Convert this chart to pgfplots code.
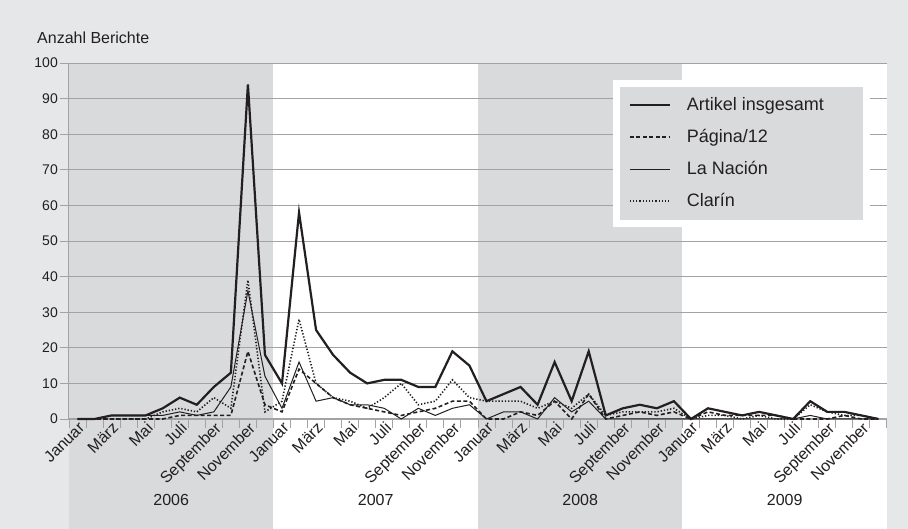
\documentclass[border=0pt]{standalone}
\usepackage{fontspec}
\setmainfont{Liberation Sans}
\usepackage{pgfplots}
\usepackage{pgfplotstable}
\pgfplotsset{compat=1.18}
\definecolor{bgout}{HTML}{E6E7E8}
\definecolor{bgband}{HTML}{D9DADB}
\definecolor{gridc}{HTML}{A3A3A3}
\definecolor{ink}{HTML}{231F20}

\pgfplotstableread{
i art pag nac cla
0 0 0 0 0
1 0 0 0 0
2 1 0 1 0
3 1 0 1 0
4 1 0 1 0
5 3 0 1 2
6 6 1 2 3
7 4 1 1 2
8 9 1 2 6
9 13 1 9 3
10 94 19 36 39
11 18 4 12 2
12 10 2 3 5
13 58 14 16 28
14 25 10 5 10
15 18 6 6 6
16 13 4 4 5
17 10 3 4 3
18 11 2 3 6
19 11 1 0 10
20 9 2 3 4
21 9 3 1 5
22 19 5 3 11
23 15 5 4 6
24 5 0 0 5
25 7 0 2 5
26 9 2 2 5
27 4 1 0 3
28 16 5 6 5
29 5 0 2 3
30 19 7 5 7
31 1 0 0 1
32 3 1 0 2
33 4 2 0 2
34 3 1 0 2
35 5 2 0 3
36 0 0 0 0
37 3 2 0 1
38 2 1 0 1
39 1 1 0 0
40 2 1 0 1
41 1 1 0 0
42 0 0 0 0
43 5 0 1 4
44 2 0 0 2
45 2 1 0 1
46 1 0 0 1
47 0 0 0 0
}\datatable

\begin{document}
\begin{tikzpicture}
\begin{axis}[
  set layers,
  at={(0pt,0pt)}, anchor=south west,
  scale only axis,
  width=817.9pt, height=356pt,
  xmin=-0.5, xmax=47.5, ymin=0, ymax=100,
  enlargelimits=false,
  clip=false,
  /pgf/number format/assume math mode=true,
  axis x line*=bottom, axis y line*=left,
  axis line style={draw=gridc, line width=1pt, -},
  ymajorgrids,
  grid style={draw=gridc, line width=0.9pt},
  ytick={0,10,...,100},
  tick align=outside,
  major tick length=9pt,
  minor tick length=9pt,
  tick style={draw=gridc, line width=0.9pt},
  xtick={0,2,...,46},
  xticklabels={Januar,März,Mai,Juli,September,November,Januar,März,Mai,Juli,September,November,Januar,März,Mai,Juli,September,November,Januar,März,Mai,Juli,September,November},
  major x tick style={draw=none},
  minor xtick={-0.5,0.5,...,47.5},
  minor x tick style={draw=gridc, line width=0.9pt},
  xticklabel style={rotate=45, anchor=north east, inner sep=1pt, yshift=6pt, xshift=6pt,
       font=\fontsize{16}{18}\selectfont, text=ink},
  yticklabel style={font=\fontsize{14}{16}\selectfont, text=ink, inner sep=2pt},
  legend cell align=left,
  legend image code/.code={\draw[#1] (0pt,0pt) -- (40pt,0pt);},
  legend style={at={(axis cs:46.5,95.3)}, anchor=north east,
     fill=bgband, draw=white, line width=7pt,
     font=\fontsize{18}{21}\selectfont, text=ink,
     inner xsep=12.5pt, inner ysep=11pt, row sep=10pt, column sep=14pt,
     nodes={inner sep=2pt, text height=14pt, text depth=4pt}},
]
\begin{pgfonlayer}{axis background}
\fill[bgout] ([xshift=-69pt,yshift=-110pt]axis cs:-0.5,0) rectangle ([xshift=21pt,yshift=63pt]axis cs:47.5,100);
\fill[bgband] (axis cs:-0.5,-31) rectangle (axis cs:11.5,100);
\fill[white] (axis cs:11.5,-31) rectangle (axis cs:23.5,100);
\fill[bgband] (axis cs:23.5,-31) rectangle (axis cs:35.5,100);
\fill[white] (axis cs:35.5,-31) rectangle (axis cs:47.5,100);
\end{pgfonlayer}

\addplot[ink, line width=2.2pt] table[x=i, y=art] {\datatable};
\addlegendentry{\makebox[165pt][l]{Artikel insgesamt}}
\addplot[ink, line width=1.6pt, dash pattern=on 4pt off 2.5pt] table[x=i, y=pag] {\datatable};
\addlegendentry{\makebox[165pt][l]{Página/12}}
\addplot[ink, line width=1.0pt] table[x=i, y=nac] {\datatable};
\addlegendentry{\makebox[165pt][l]{La Nación}}
\addplot[ink, line width=1.6pt, dash pattern=on 1.3pt off 1.9pt] table[x=i, y=cla] {\datatable};
\addlegendentry{\makebox[165pt][l]{Clarín}}

\node[font=\fontsize{16}{19}\selectfont, text=ink] at (axis cs:5.5,-22.75) {2006};
\node[font=\fontsize{16}{19}\selectfont, text=ink] at (axis cs:17.5,-22.75) {2007};
\node[font=\fontsize{16}{19}\selectfont, text=ink] at (axis cs:29.5,-22.75) {2008};
\node[font=\fontsize{16}{19}\selectfont, text=ink] at (axis cs:41.5,-22.75) {2009};
\node[font=\fontsize{16}{19}\selectfont, text=ink, anchor=base west, inner sep=0pt] at (axis cs:-2.378,105.6) {Anzahl Berichte};
\end{axis}
\pgfresetboundingbox
\path[use as bounding box] (-69pt,-110pt) rectangle (839pt,419pt);
\end{tikzpicture}
\end{document}
